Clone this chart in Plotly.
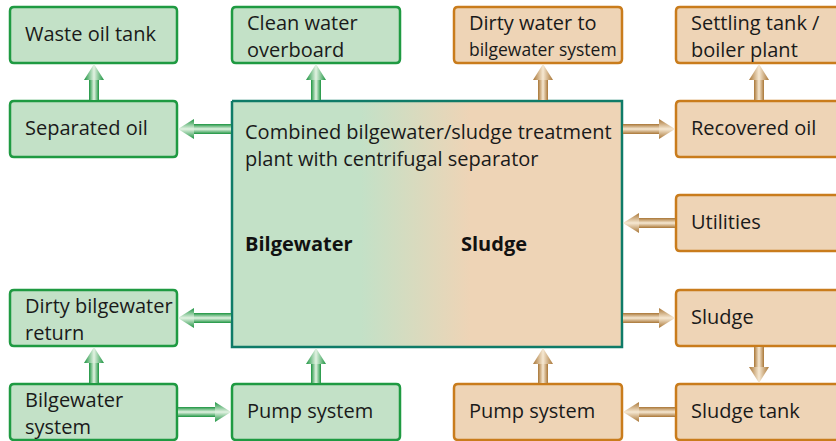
import plotly.graph_objects as go

# ---- diagram content ----
box_names = ["waste", "clean", "dirtyw", "settle", "sepoil", "recoil", "util",
             "dbret", "sludge", "bsys", "pumpg", "pumpo", "stank"]
box_lines = [["Waste oil tank"], ["Clean water", "overboard"],
             ["Dirty water to", "bilgewater system"], ["Settling tank /", "boiler plant"],
             ["Separated oil"], ["Recovered oil"], ["Utilities"],
             ["Dirty bilgewater", "return"], ["Sludge"], ["Bilgewater", "system"],
             ["Pump system"], ["Pump system"], ["Sludge tank"]]
box_group = ["g", "g", "o", "o", "g", "o", "o", "g", "o", "g", "g", "o", "o"]
main_title = ["Combined bilgewater/sludge treatment", "plant with centrifugal separator"]
main_labels = ["Bilgewater", "Sludge"]
connections = [("sepoil", "waste"), ("main", "sepoil"), ("main", "clean"), ("main", "dirtyw"),
               ("recoil", "settle"), ("main", "recoil"), ("util", "main"), ("main", "sludge"),
               ("sludge", "stank"), ("stank", "pumpo"), ("pumpo", "main"), ("main", "dbret"),
               ("bsys", "dbret"), ("bsys", "pumpg"), ("pumpg", "main")]

# ---- layout (grid) ----
grid = {"waste": (0, 0), "clean": (1, 0), "dirtyw": (2, 0), "settle": (3, 0),
        "sepoil": (0, 1), "recoil": (3, 1), "util": (3, 2), "dbret": (0, 3), "sludge": (3, 3),
        "bsys": (0, 4), "pumpg": (1, 4), "pumpo": (2, 4), "stank": (3, 4)}
col_left = [10, 232, 454, 676]
col_w = [167, 168, 168, 175]
col_cx = [94, 316, 543, 759]
row_top = [7, 101, 195, 290, 384]
row_h = 56
MAIN = (232, 101, 622, 347)

GREEN_FILL, GREEN_LINE = "#c3e1c7", "#1f9a42"
ORANGE_FILL, ORANGE_LINE = "#eed4b6", "#c97c1c"
TEAL = "#0f7b68"
ARROW = {"g": ("#1c9440", "#e2f2e2"), "o": ("#a97636", "#f6e8d2")}
FONT = "Open Sans"
FS = 20

def rect(name):
    if name == "main":
        return MAIN
    c, r = grid[name]
    return (col_left[c], row_top[r], col_left[c] + col_w[c], row_top[r] + row_h)

def rounded(x0, y0, x1, y1, r=4):
    return (f"M{x0+r},{y0} L{x1-r},{y0} Q{x1},{y0} {x1},{y0+r} L{x1},{y1-r} Q{x1},{y1} {x1-r},{y1} "
            f"L{x0+r},{y1} Q{x0},{y1} {x0},{y1-r} L{x0},{y0+r} Q{x0},{y0} {x0+r},{y0} Z")

fig = go.Figure()
shapes, annos = [], []

# main box with gradient
mx0, my0, mx1, my1 = MAIN
fig.add_trace(go.Scatter(
    x=[mx0, mx1, mx1, mx0, mx0], y=[my0, my0, my1, my1, my0], mode="lines", fill="toself",
    line=dict(color=TEAL, width=2.5), hoverinfo="skip", showlegend=False,
    fillgradient=dict(type="horizontal", start=mx0, stop=mx1,
                      colorscale=[[0, GREEN_FILL], [0.33, GREEN_FILL], [0.61, ORANGE_FILL], [1, ORANGE_FILL]])))

for name, lines, g in zip(box_names, box_lines, box_group):
    x0, y0, x1, y1 = rect(name)
    shapes.append(dict(type="path", path=rounded(x0, y0, x1, y1),
                       fillcolor=GREEN_FILL if g == "g" else ORANGE_FILL,
                       line=dict(color=GREEN_LINE if g == "g" else ORANGE_LINE, width=2.5),
                       layer="below"))
    cy = (y0 + y1) / 2
    ys = [cy - 2] if len(lines) == 1 else [cy - 13, cy + 14]
    for ln, yy in zip(lines, ys):
        size = 17.5 if ln == "bilgewater system" else FS
        annos.append(dict(x=x0 + 13, y=yy, text=ln, showarrow=False, xanchor="left", yanchor="middle",
                          font=dict(family=FONT, size=size, color="#1a1a1a")))

for ln, yy in zip(main_title, [131, 158]):
    annos.append(dict(x=mx0 + 11, y=yy, text=ln, showarrow=False, xanchor="left", yanchor="middle",
                      font=dict(family=FONT, size=FS, color="#1a1a1a")))
for ln, xx in zip(main_labels, [mx0 + 11, 459]):
    annos.append(dict(x=xx, y=243, text=f"<b>{ln}</b>", showarrow=False, xanchor="left", yanchor="middle",
                      font=dict(family=FONT, size=FS, color="#111111")))

# arrows
SH, HH, HL = 5, 10, 16
def add_poly(xs, ys, dark, light, orient):
    fig.add_trace(go.Scatter(
        x=xs, y=ys, mode="lines", fill="toself", line=dict(width=0, color=dark),
        hoverinfo="skip", showlegend=False,
        fillgradient=dict(type=orient, colorscale=[[0, dark], [0.5, light], [1, dark]])))

for src, dst in connections:
    other = dst if src == "main" else src
    g = box_group[box_names.index(other)]
    dark, light = ARROW[g]
    sx0, sy0, sx1, sy1 = rect(src)
    dx0, dy0, dx1, dy1 = rect(dst)
    c, r = grid[other]
    if sx1 <= dx0 or dx1 <= sx0:  # horizontal
        oy0, oy1 = rect(other)[1], rect(other)[3]
        y = (oy0 + oy1) / 2
        if sx1 <= dx0:
            a, b, d = sx1 + 1, dx0 - 1, 1
        else:
            a, b, d = sx0 - 1, dx1 + 1, -1
        hb = b - d * HL
        add_poly([a, hb, hb, a, a], [y - SH, y - SH, y + SH, y + SH, y - SH], dark, light, "vertical")
        add_poly([hb, b, hb, hb], [y - HH, y, y + HH, y - HH], dark, light, "vertical")
    else:  # vertical
        x = col_cx[c]
        if sy1 <= dy0:
            a, b, d = sy1 + 1, dy0 - 1, 1
        else:
            a, b, d = sy0 - 1, dy1 + 1, -1
        hb = b - d * HL
        add_poly([x - SH, x - SH, x + SH, x + SH, x - SH], [a, hb, hb, a, a], dark, light, "horizontal")
        add_poly([x - HH, x, x + HH, x - HH], [hb, b, hb, hb], dark, light, "horizontal")

fig.update_layout(
    width=836, height=441, margin=dict(l=0, r=0, t=0, b=0),
    paper_bgcolor="white", plot_bgcolor="white", shapes=shapes, annotations=annos,
    xaxis=dict(range=[0, 836], visible=False, fixedrange=True),
    yaxis=dict(range=[441, 0], visible=False, fixedrange=True),
    showlegend=False)
fig.write_html("out.html", config={"displayModeBar": False},
               post_script="document.body.style.margin='0';document.body.style.overflow='hidden';")
